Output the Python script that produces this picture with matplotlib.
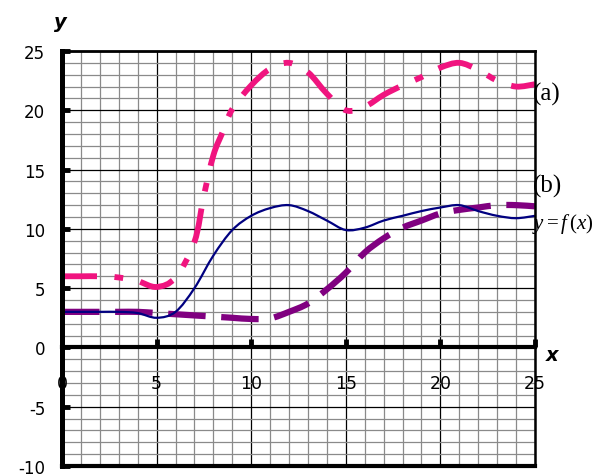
import matplotlib
matplotlib.use("Agg")
import matplotlib.pyplot as plt
from matplotlib.path import Path
from matplotlib.patches import PathPatch
import numpy as np

plt.rcParams["mathtext.fontset"] = "custom"
plt.rcParams["mathtext.rm"] = "Liberation Serif"
plt.rcParams["mathtext.it"] = "Liberation Serif:italic"

x_vals = [0, 1, 2, 3, 4, 5, 6, 7, 7.5, 8, 8.5, 9, 10, 11, 12, 13, 14, 15, 16, 17, 18, 19, 20, 21, 22, 23, 24, 25]
a_vals = [6.0, 6.0, 6.0, 5.9, 5.6, 5.1, 5.9, 8.9, 12.8, 16.2, 18.2, 20.1, 22.1, 23.5, 24.0, 23.2, 21.4, 20.0, 20.3, 21.3, 22.1, 22.8, 23.6, 24.0, 23.4, 22.5, 22.0, 22.2]

xf_vals = [0, 1, 2, 3, 4, 5, 6, 7, 8, 9, 10, 11, 12, 13, 14, 15, 16, 17, 18, 19, 20, 21, 22, 23, 24, 25]
f_vals = [3.0, 3.0, 3.0, 3.0, 2.9, 2.5, 3.0, 5.0, 7.75, 9.9, 11.1, 11.75, 12.0, 11.5, 10.7, 9.9, 10.1, 10.7, 11.1, 11.5, 11.8, 12.0, 11.5, 11.1, 10.9, 11.1]

b_vals = [3.0, 3.0, 3.0, 3.0, 3.0, 2.9, 2.8, 2.7, 2.6, 2.5, 2.4, 2.45, 3.0, 3.7, 4.9, 6.3, 8.0, 9.2, 10.1, 10.7, 11.3, 11.6, 11.8, 12.0, 12.0, 11.9]

x_ticks = [0, 5, 10, 15, 20, 25]
y_ticks = [-10, -5, 0, 5, 10, 15, 20, 25]


def smooth_path(xs, ys):
    """Bezier (Catmull-Rom style) smoothed path through the data points."""
    p = np.column_stack([xs, ys]).astype(float)
    n = len(p)
    verts = [p[0]]
    codes = [Path.MOVETO]
    for i in range(n - 1):
        p0 = p[i - 1] if i > 0 else p[i]
        p1 = p[i]
        p2 = p[i + 1]
        p3 = p[i + 2] if i + 2 < n else p[i + 1]
        c1 = p1 + (p2 - p0) / 6.0
        c2 = p2 - (p3 - p1) / 6.0
        verts += [c1, c2, p2]
        codes += [Path.CURVE4] * 3
    return Path(verts, codes)


fig = plt.figure(figsize=(6.06, 4.77), dpi=100)
ax = fig.add_axes([62/606, 1-467/477, (535-62)/606, (467-52)/477])
ax.set_xlim(0, 25)
ax.set_ylim(-10, 25)

# grid
for xv in range(0, 26):
    if xv % 5 == 0:
        ax.axvline(xv, color="black", lw=0.9, zorder=1)
    else:
        ax.axvline(xv, color="#8a8a8a", lw=0.9, zorder=1)
for yv in range(-10, 26):
    if yv % 5 == 0:
        ax.axhline(yv, color="black", lw=0.9, zorder=1)
    else:
        ax.axhline(yv, color="#8a8a8a", lw=0.9, zorder=1)

# curves
ax.add_patch(PathPatch(smooth_path(x_vals, a_vals), fill=False, edgecolor="#F0147F",
                       lw=4.2, linestyle=(0, (6, 3, 1.5, 3)), capstyle="butt", zorder=3))
ax.add_patch(PathPatch(smooth_path(xf_vals, b_vals), fill=False, edgecolor="#800080",
                       lw=4.5, linestyle=(0, (6, 2.5)), capstyle="butt", zorder=3))
ax.add_patch(PathPatch(smooth_path(xf_vals, f_vals), fill=False, edgecolor="#000080",
                       lw=1.6, zorder=4))

# spines
ax.spines["left"].set_linewidth(3.6)
ax.spines["left"].set_position(("data", 0))
ax.spines["bottom"].set_position(("data", 0))
ax.spines["bottom"].set_linewidth(3.0)
ax.spines["top"].set_linewidth(2.0)
ax.spines["right"].set_linewidth(1.8)
ax.axhline(-10, color="black", lw=3.0, zorder=5, clip_on=False)
for s in ax.spines.values():
    s.set_zorder(6)

ax.set_xticks(x_ticks)
ax.set_xticklabels([str(v) for v in x_ticks])
ax.set_yticks(y_ticks)
ax.set_yticklabels([str(v) for v in y_ticks])
ax.tick_params(axis="x", direction="in", length=6, width=3.5, pad=19, labelsize=12.5)
ax.tick_params(axis="y", direction="in", length=6, width=3.5, pad=12, labelsize=12)

ax.text(-0.1, 27.5, "y", fontsize=14, fontweight="bold", style="italic", ha="center", va="center")
ax.text(25.9, -0.6, "x", fontsize=14, fontweight="bold", style="italic", ha="center", va="center", clip_on=False)

ax.text(24.9, 21.4, "(a)", fontsize=18, family="Liberation Serif", ha="left", va="center", clip_on=False)
ax.text(24.9, 13.7, "(b)", fontsize=18, family="Liberation Serif", ha="left", va="center", clip_on=False)
ax.text(24.85, 10.5, "$y=f\\,(x)$", fontsize=15, ha="left", va="center", clip_on=False)

fig.savefig("out.png", dpi=100)
